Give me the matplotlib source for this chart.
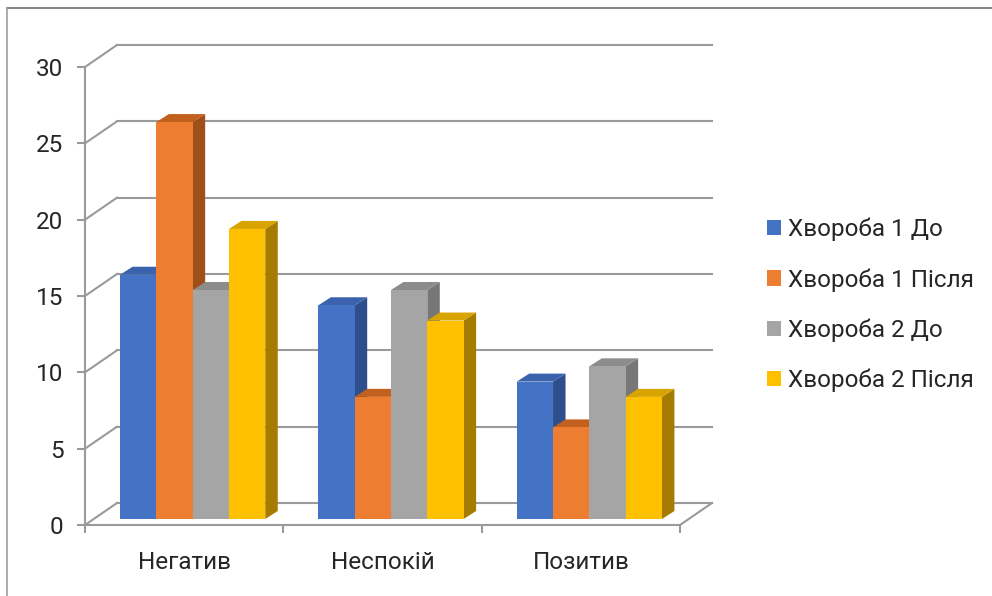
import matplotlib
matplotlib.use("Agg")
import matplotlib.pyplot as plt
from matplotlib.patches import Polygon, Patch
from matplotlib.lines import Line2D
import numpy as np

# chart data
categories = ["Негатив", "Неспокій", "Позитив"]
series_names = ["Хвороба 1 До", "Хвороба 1 Після", "Хвороба 2 До", "Хвороба 2 Після"]
hv1_before = [16, 14, 9]
hv1_after = [26, 8, 6]
hv2_before = [15, 15, 10]
hv2_after = [19, 13, 8]
y_ticks = [0, 5, 10, 15, 20, 25, 30]

series = [hv1_before, hv1_after, hv2_before, hv2_after]
front_col = ["#4472C4", "#ED7D31", "#A5A5A5", "#FFC000"]
top_col = ["#3B63AD", "#C2601E", "#8C8C8C", "#D9A400"]
side_col = ["#2F4F8C", "#A04E1A", "#777777", "#A67C00"]
grid_col = "#9a9a9a"
text_col = "#262626"

plt.rcParams["font.family"] = ["Roboto", "DejaVu Sans"]
fs = 17.5

W, H = 992, 596
fig = plt.figure(figsize=(W / 100, H / 100), dpi=100)
ax_l, ax_r, ax_t, ax_b = 85, 680, 67, 525
ax = fig.add_axes([ax_l / W, (H - ax_b) / H, (ax_r - ax_l) / W, (ax_b - ax_t) / H])
ncat = len(categories)
ymax = y_ticks[-1]
ax.set_xlim(0, ncat)
ax.set_ylim(0, ymax)

# pixel -> data conversions for the fake 3d depth
px_x = (ax_r - ax_l) / ncat
px_y = (ax_b - ax_t) / ymax
back_dx, back_dy = 32 / px_x, 22 / px_y      # back wall offset
front_dx, front_dy = 8.5 / px_x, 6 / px_y    # bar front offset
dep_dx, dep_dy = 12.5 / px_x, 8 / px_y       # bar depth
bw = 36.3 / px_x

# walls: back wall grid + left wall diagonals
for v in y_ticks:
    ax.plot([back_dx, ncat + back_dx], [v + back_dy, v + back_dy], color=grid_col, lw=1.5, clip_on=False, zorder=1)
    ax.plot([0, back_dx], [v, v + back_dy], color=grid_col, lw=1.5, clip_on=False, zorder=1)
# floor right edge
ax.plot([ncat, ncat + back_dx], [0, back_dy], color=grid_col, lw=1.5, clip_on=False, zorder=1)

# bars
for j in range(ncat):
    x0 = j + 0.5 - 2 * bw + front_dx
    for i, vals in enumerate(series):
        xl = x0 + i * bw
        xr = xl + bw
        yb = front_dy
        yt = vals[j] + front_dy
        side = Polygon([(xr, yb), (xr + dep_dx, yb + dep_dy), (xr + dep_dx, yt + dep_dy), (xr, yt)],
                       closed=True, fc=side_col[i], ec="none", zorder=3, clip_on=False)
        top = Polygon([(xl, yt), (xl + dep_dx, yt + dep_dy), (xr + dep_dx, yt + dep_dy), (xr, yt)],
                      closed=True, fc=top_col[i], ec="none", zorder=3, clip_on=False)
        ax.add_patch(side)
        ax.add_patch(top)
        ax.bar(xl, vals[j], width=bw, bottom=yb, align="edge", color=front_col[i],
               zorder=3, clip_on=False, lw=0)

# axes styling
for s in ["top", "right"]:
    ax.spines[s].set_visible(False)
for s in ["left", "bottom"]:
    ax.spines[s].set_color(grid_col)
    ax.spines[s].set_linewidth(1.5)
ax.set_yticks(y_ticks)
ax.set_yticklabels([str(v) for v in y_ticks])
ax.tick_params(axis="y", length=5.5, width=1.5, color=grid_col, pad=10, labelsize=fs, labelcolor=text_col)
ax.set_xticks(range(ncat + 1))
ax.set_xticklabels([])
ax.tick_params(axis="x", which="major", length=6, width=1.5, color=grid_col)
ax.set_xticks(np.arange(ncat) + 0.5, minor=True)
ax.set_xticklabels(categories, minor=True)
ax.tick_params(axis="x", which="minor", length=0, pad=19, labelsize=fs, labelcolor=text_col)
ax.patch.set_visible(False)

# legend
handles = [Patch(fc=c, ec="none") for c in front_col]
leg = fig.legend(handles, series_names, loc="center left", bbox_to_anchor=(767 / W, 1 - 305 / H),
                 frameon=False, fontsize=fs, handlelength=0.58, handleheight=0.58,
                 handletextpad=0.3, labelspacing=1.1, borderpad=0, borderaxespad=0)
for t in leg.get_texts():
    t.set_color(text_col)

# outer chart border
fig.add_artist(Line2D([7 / W, 1], [1 - 8 / H, 1 - 8 / H], transform=fig.transFigure, color="#8a8a8a", lw=1.5))
fig.add_artist(Line2D([7 / W, 7 / W], [0, 1 - 8 / H], transform=fig.transFigure, color="#a0a0a0", lw=1.2))

fig.savefig("out.png", dpi=100)
